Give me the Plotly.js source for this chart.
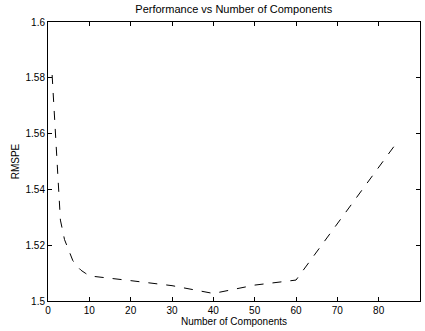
<!DOCTYPE html>
<html><head><meta charset="utf-8">
<script src="https://cdn.plot.ly/plotly-3.0.1.min.js"></script>
<style>html,body{margin:0;padding:0;background:#fff}#chart{width:425px;height:331px}</style>
</head><body><div id="chart"></div>
<script>
const components = [1, 2, 3, 4, 5, 6, 7, 8, 9, 10, 20, 30, 40, 50, 60, 84];
const rmspe = [1.581, 1.555, 1.529, 1.522, 1.518, 1.5145, 1.5125, 1.511, 1.510, 1.509, 1.5073, 1.5055, 1.5027, 1.5057, 1.5075, 1.556];
const xTicks = [0, 10, 20, 30, 40, 50, 60, 70, 80, 90];
const yTicks = [1.5, 1.52, 1.54, 1.56, 1.58, 1.6];
const yTickText = ['1.5', '1.52', '1.54', '1.56', '1.58', '1.6'];

const font = {family: 'Liberation Sans, Arial, sans-serif', size: 10, color: '#000'};
Plotly.newPlot('chart', [{
  x: components, y: rmspe, type: 'scatter', mode: 'lines',
  line: {color: '#000', width: 1, dash: 'dash'}
}], {
  width: 425, height: 331,
  margin: {l: 48, r: 5, t: 22, b: 30},
  paper_bgcolor: '#fff', plot_bgcolor: '#fff',
  showlegend: false,
  font: font,
  title: {text: 'Performance vs Number of Components', font: {family: font.family, size: 11, color: '#000'}, x: 0.55, xanchor: 'center', y: 0.985, yanchor: 'top'},
  xaxis: {
    range: [0, 90], tickvals: xTicks, ticktext: xTicks.map(String),
    ticks: 'inside', ticklen: 4, tickcolor: '#000', mirror: 'allticks',
    showline: true, linecolor: '#000', linewidth: 1, showgrid: false, zeroline: false,
    tickfont: font,
    title: {text: 'Number of Components', font: font, standoff: 2}
  },
  yaxis: {
    range: [1.5, 1.6], tickvals: yTicks, ticktext: yTickText,
    ticks: 'inside', ticklen: 4, tickcolor: '#000', mirror: 'allticks',
    showline: true, linecolor: '#000', linewidth: 1, showgrid: false, zeroline: false,
    tickfont: font,
    title: {text: 'RMSPE', font: font, standoff: 4}
  }
}, {displayModeBar: false, staticPlot: true});
</script></body></html>
